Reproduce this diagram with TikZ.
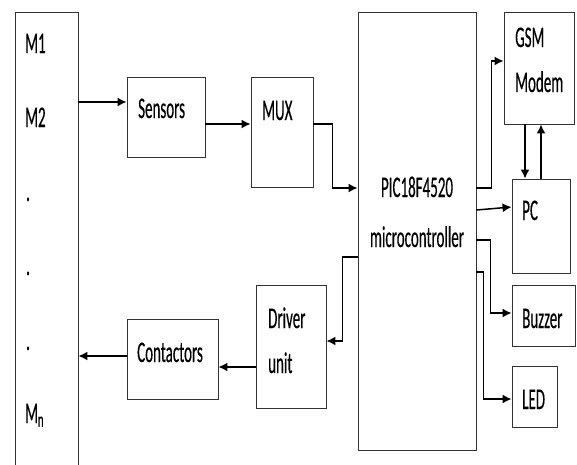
\documentclass[tikz,border=0pt]{standalone}
\usepackage{fontspec}
\setmainfont{Carlito}[FakeStretch=0.5,FakeBold=0.3]
\usetikzlibrary{arrows.meta, positioning}

\begin{document}
\begin{tikzpicture}[x=1pt,y=-1pt,>={Latex[length=9pt,width=9pt]},
 every node/.style={font=\fontsize{30}{45}\selectfont},
 blk/.style={draw=black!80,line width=.9pt,inner sep=0pt},
 txt/.style={anchor=base west,inner sep=0pt,align=left},
 arr/.style={->,line width=1.5pt}]
 \useasboundingbox (0,0) rectangle (577,464);
 % blocks
 \node[blk,minimum width=63pt,minimum height=458pt] (mb) at (46.5,241) {};
 \node[blk,minimum width=78pt,minimum height=80pt] (sens) at (166,117) {};
 \node[blk,minimum width=62pt,minimum height=110pt] (mux) at (282,132) {};
 \node[blk,minimum width=118pt,minimum height=438pt] (pic) at (417,231) {};
 \node[blk,minimum width=70pt,minimum height=112pt] (gsm) at (539,68) {};
 \node[blk,minimum width=58pt,minimum height=94pt] (pc) at (541,226) {};
 \node[blk,minimum width=63pt,minimum height=61pt] (buz) at (543.5,315.5) {};
 \node[blk,minimum width=45pt,minimum height=61pt] (led) at (534.5,396.5) {};
 \node[blk,minimum width=70pt,minimum height=123pt] (drv) at (291,346.5) {};
 \node[blk,minimum width=91pt,minimum height=80pt] (cont) at (172.5,359) {};
 % texts
 \node[txt] (m1) at (25,53) {M1};
 \node[txt] (m2) at (25,127) {M2};
 \node[txt] (d1) at (26,201) {.};
 \node[txt] (d2) at (26,275) {.};
 \node[txt] (d3) at (26,350) {.};
 \node[txt] (mn) at (25,423) {M\textsubscript{n}};
 \node[txt] (senst) at (138,118) {Sensors};
 \node[txt] (muxt) at (262,120) {MUX};
 \node[txt] (gsmt) at (515,92) {GSM\\Modem};
 \node[txt] (pct) at (522,220) {PC};
 \node[txt] (buzt) at (522,328) {Buzzer};
 \node[txt] (ledt) at (522,409) {LED};
 \node[txt] (drvt) at (268,373) {Driver\\unit};
 \node[txt] (contt) at (137,362) {Contactors};
 \node[anchor=base,inner sep=0pt,align=center] (pict) at (417,247)
  {PIC18F4520\\[5pt]microcontroller};
 % connectors
 \coordinate (sin) at ([yshift=15pt]sens.west);
 \draw[arr] (sin -| mb.east) -- (sin);
 \draw[arr] ([yshift=-7pt]sens.east) -- ([yshift=-7pt]sens.east -| mux.west);
 \draw[arr] ([yshift=8pt]mux.east) -- ++(19,0) |- ([yshift=43pt]pic.west);
 \draw[arr] ([yshift=43pt]pic.east) -- ++(15,0) |- ([yshift=7pt]gsm.west);
 \draw[arr] ([xshift=-14pt]gsm.south) -- ([xshift=-14pt]gsm.south |- pc.north);
 \draw[arr] (pc.north) -- (pc.north |- gsm.south);
 \draw[arr] ([yshift=21pt]pic.east) -- ([yshift=19pt]pc.west);
 \draw[arr] ([yshift=-9pt]pic.east) -- ++(14,0) |- ([yshift=2.5pt]buz.west);
 \draw[arr] ([yshift=-41pt]pic.east) -- ++(7,0) |- ([yshift=-2.5pt]led.west);
 \draw[arr] ([yshift=-26pt]pic.west) -- ++(-15,0) |- ([yshift=5.5pt]drv.east);
 \draw[arr] ([yshift=-20.5pt]drv.west) -- ([yshift=-20.5pt]drv.west -| cont.east);
 \draw[arr] ([yshift=3pt]cont.west) -- ([yshift=3pt]cont.west -| mb.east);
\end{tikzpicture}
\end{document}
